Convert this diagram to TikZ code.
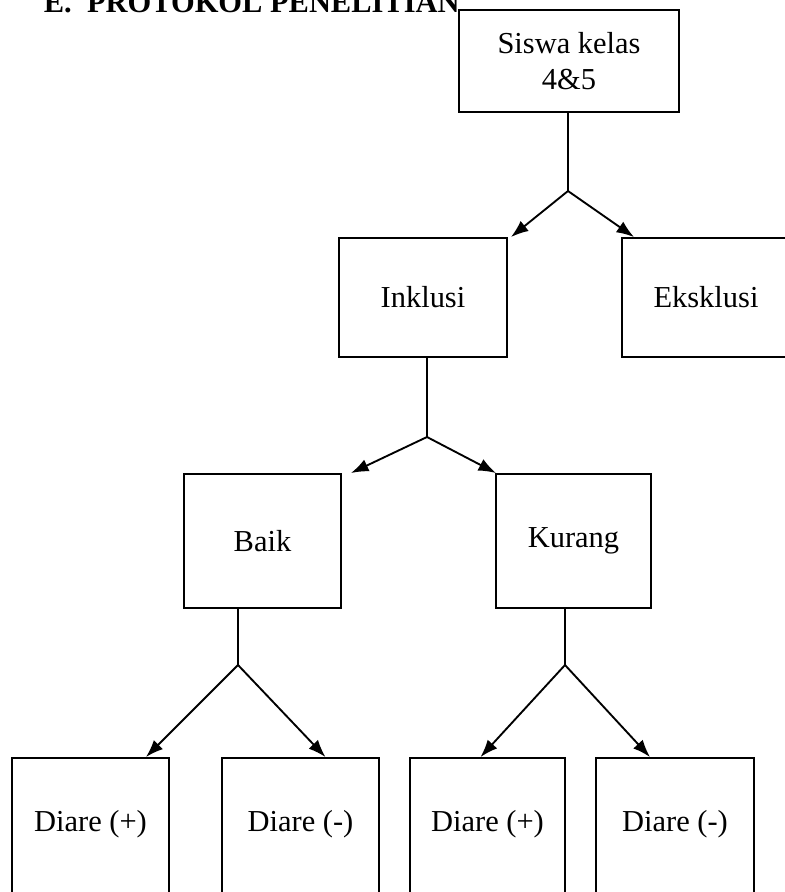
\documentclass[tikz,border=0pt]{standalone}
\usepackage{fontspec}
\setmainfont{Liberation Serif}
\usetikzlibrary{arrows.meta,calc}

\begin{document}
\begin{tikzpicture}[x=0.03cm,y=-0.03cm,
  line width=1.6pt,
  every node/.style={font=\fontsize{26}{31}\selectfont},
  box/.style={draw,rectangle,inner sep=0pt,align=center},
  arr/.style={-{Latex[length=15pt,width=11pt]}}]%
\useasboundingbox (0,0) rectangle (785,892);%
\node [anchor=base west,font=\fontsize{26}{31}\selectfont\bfseries] (judul) at (39,12) {E.\ \ PROTOKOL PENELITIAN};%
\node [box,minimum width=6.6cm,minimum height=3.06cm] (siswa) at (569,61) {Siswa kelas\\4\&5};%
\node [box,minimum width=5.04cm,minimum height=3.57cm] (inklusi) at (423,297.5) {Inklusi};%
\node [box,minimum width=5.04cm,minimum height=3.57cm] (eksklusi) at (706,297.5) {Eksklusi};%
\node [box,minimum width=4.71cm,minimum height=4.02cm] (baik) at (262.5,541) {Baik};%
\node [box,minimum width=4.65cm,minimum height=4.02cm] (kurang) at (573.5,541) {Kurang};%
\node [box,minimum width=4.71cm,text height=2.19cm,text depth=2.25cm] (d1) at (90.5,832) {Diare (+)};%
\node [box,minimum width=4.71cm,text height=2.19cm,text depth=2.25cm] (d2) at (300.5,832) {Diare (-)};%
\node [box,minimum width=4.65cm,text height=2.19cm,text depth=2.25cm] (d3) at (487.5,832) {Diare (+)};%
\node [box,minimum width=4.74cm,text height=2.19cm,text depth=2.25cm] (d4) at (675,832) {Diare (-)};%
\coordinate (c1) at (568,191);%
\coordinate (c2) at (427,437);%
\coordinate (c3) at (238,665);%
\coordinate (c4) at (565,665);%
\draw (siswa.south -| c1) -- (c1);%
\draw [arr] (c1) -- ($(inklusi.north east)+(3,0)$);%
\draw [arr] (c1) -- ($(eksklusi.north west)+(13,0)$);%
\draw (inklusi.south -| c2) -- (c2);%
\draw [arr] (c2) -- ($(baik.north east)+(9,0)$);%
\draw [arr] (c2) -- ($(kurang.north west)+(1,0)$);%
\draw (baik.south -| c3) -- (c3);%
\draw [arr] (c3) -- ($(d1.north east)+(-24,0)$);%
\draw [arr] (c3) -- ($(d2.north)+(25,0)$);%
\draw (kurang.south -| c4) -- (c4);%
\draw [arr] (c4) -- ($(d3.north)+(-7,0)$);%
\draw [arr] (c4) -- ($(d4.north)+(-25,0)$);%
\end{tikzpicture}
\end{document}
